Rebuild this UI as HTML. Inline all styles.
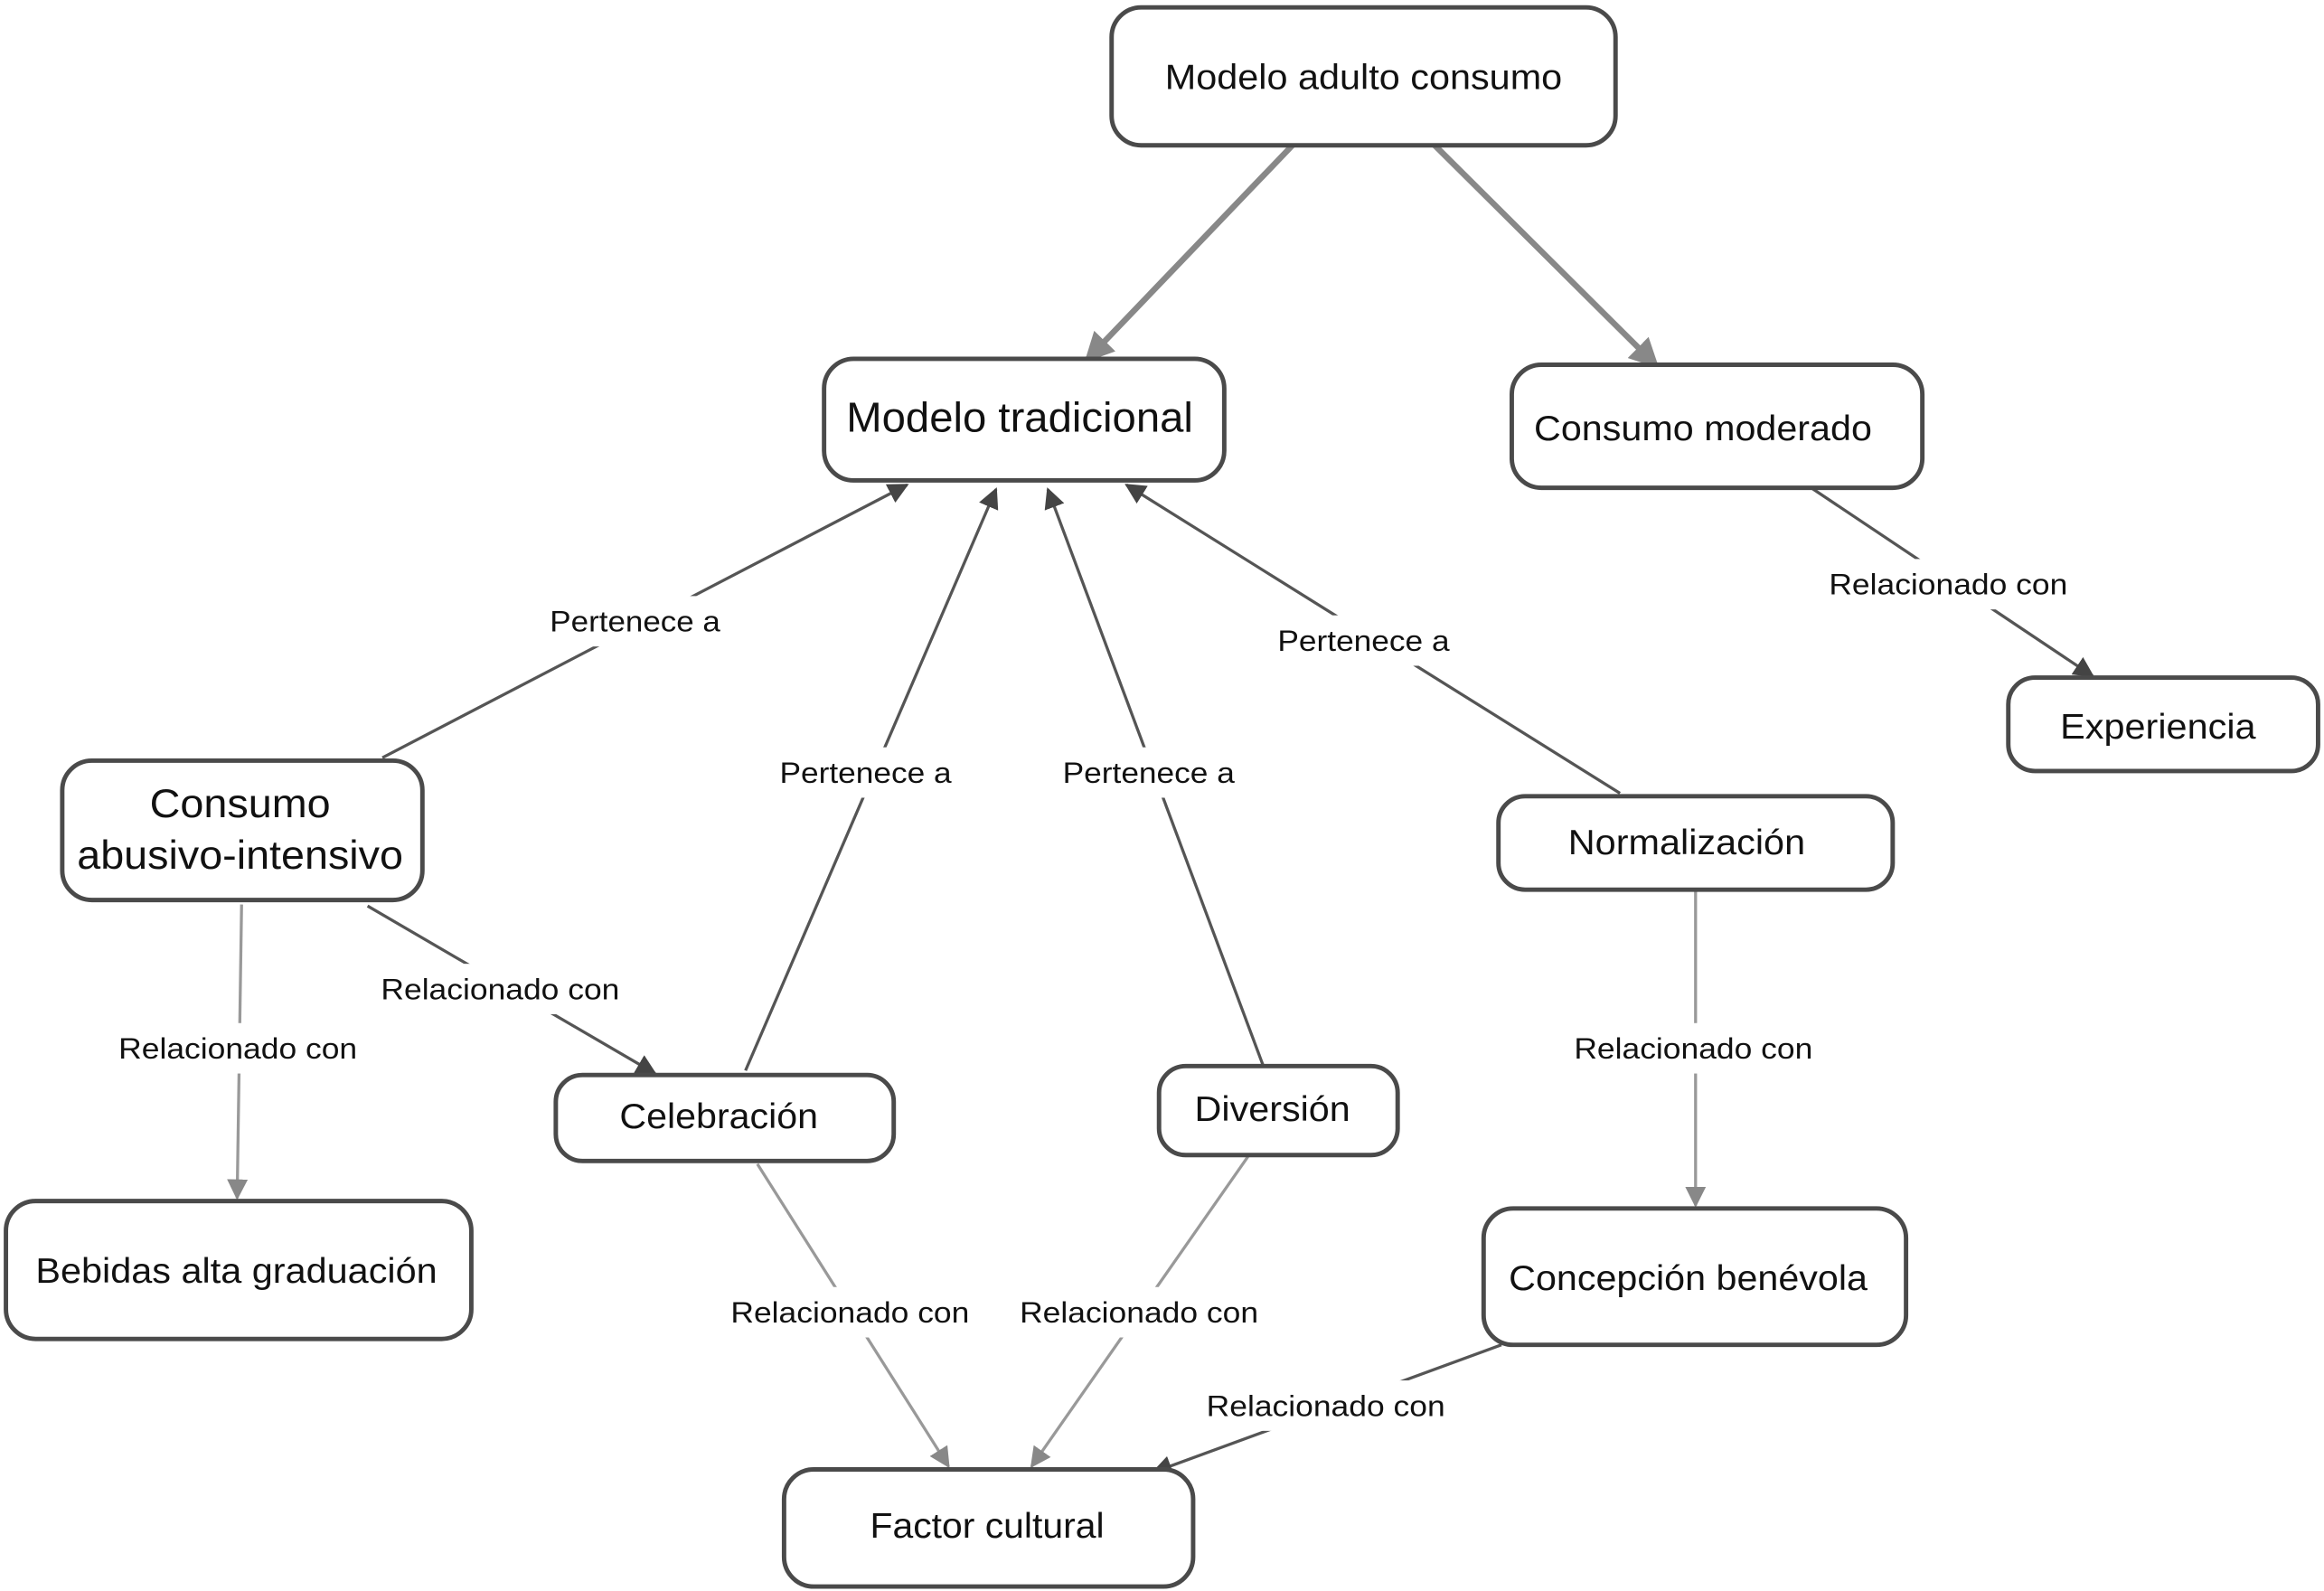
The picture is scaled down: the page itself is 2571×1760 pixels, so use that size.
<!DOCTYPE html>
<html><head><meta charset="utf-8"><style>html,body{margin:0;padding:0;background:#fff}svg{display:block}</style></head>
<body>
<svg width="2571" height="1760" viewBox="0 0 1568 1073" preserveAspectRatio="none" xmlns="http://www.w3.org/2000/svg" font-family="Liberation Sans, sans-serif" fill="#111">
<defs>
<marker id="ag" viewBox="0 0 10 10" refX="9" refY="5" markerWidth="5" markerHeight="5" orient="auto" markerUnits="strokeWidth"><path d="M0,0L10,5L0,10z" fill="#888"/></marker>
<marker id="ad" viewBox="0 0 10 10" refX="9" refY="5" markerWidth="7" markerHeight="7" orient="auto" markerUnits="strokeWidth"><path d="M0,0L10,5L0,10z" fill="#444"/></marker>
<marker id="am" viewBox="0 0 10 10" refX="9" refY="5" markerWidth="7" markerHeight="7" orient="auto" markerUnits="strokeWidth"><path d="M0,0L10,5L0,10z" fill="#888"/></marker>
</defs>
<g fill="none">
<line x1="872" y1="98" x2="733" y2="243" stroke="#888" stroke-width="4" marker-end="url(#ag)"/>
<line x1="968" y1="98" x2="1118" y2="247" stroke="#888" stroke-width="4" marker-end="url(#ag)"/>
<line x1="258" y1="511" x2="612" y2="327" stroke="#555" stroke-width="2" marker-end="url(#ad)"/>
<line x1="503" y1="722" x2="672" y2="330" stroke="#555" stroke-width="2" marker-end="url(#ad)"/>
<line x1="852" y1="718" x2="707" y2="330" stroke="#555" stroke-width="2" marker-end="url(#ad)"/>
<line x1="1093" y1="535" x2="760" y2="327" stroke="#555" stroke-width="2" marker-end="url(#ad)"/>
<line x1="1222" y1="329" x2="1412" y2="456" stroke="#555" stroke-width="2" marker-end="url(#ad)"/>
<line x1="163" y1="610" x2="160" y2="808" stroke="#999" stroke-width="2" marker-end="url(#am)"/>
<line x1="248" y1="611" x2="442" y2="724" stroke="#555" stroke-width="2" marker-end="url(#ad)"/>
<line x1="1144" y1="600" x2="1144" y2="813" stroke="#999" stroke-width="2" marker-end="url(#am)"/>
<line x1="511" y1="785" x2="640" y2="989" stroke="#999" stroke-width="2" marker-end="url(#am)"/>
<line x1="842" y1="780" x2="696" y2="989" stroke="#999" stroke-width="2" marker-end="url(#am)"/>
<line x1="1013" y1="907" x2="778" y2="993" stroke="#555" stroke-width="2" marker-end="url(#ad)"/>
</g>
<g fill="#fff">
<rect x="366" y="402" width="126" height="34"/>
<rect x="521" y="504" width="126" height="34"/>
<rect x="712" y="504" width="126" height="34"/>
<rect x="857" y="415" width="126" height="34"/>
<rect x="1229" y="377" width="172" height="34"/>
<rect x="75" y="690" width="172" height="34"/>
<rect x="252" y="650" width="172" height="34"/>
<rect x="1057" y="690" width="172" height="34"/>
<rect x="488" y="868" width="172" height="34"/>
<rect x="683" y="868" width="172" height="34"/>
<rect x="809" y="931" width="172" height="34"/>
</g>
<g fill="#fff" stroke="#4a4a4a" stroke-width="3">
<rect x="750" y="5" width="340" height="93" rx="20"/>
<rect x="556" y="242" width="270" height="82" rx="20"/>
<rect x="1020" y="246" width="277" height="83" rx="20"/>
<rect x="1355" y="457" width="209" height="63" rx="18"/>
<rect x="42" y="513" width="243" height="94" rx="20"/>
<rect x="1011" y="537" width="266" height="63" rx="18"/>
<rect x="375" y="725" width="228" height="58" rx="18"/>
<rect x="782" y="719" width="161" height="60" rx="18"/>
<rect x="4" y="810" width="314" height="93" rx="20"/>
<rect x="1001" y="815" width="285" height="92" rx="20"/>
<rect x="529" y="991" width="276" height="79" rx="20"/>
</g>
<g font-size="24" lengthAdjust="spacingAndGlyphs">
<text x="786" y="60" textLength="268" lengthAdjust="spacingAndGlyphs">Modelo adulto consumo</text>
<text x="571" y="291" font-size="28" textLength="234" lengthAdjust="spacingAndGlyphs">Modelo tradicional</text>
<text x="1035" y="297" textLength="228" lengthAdjust="spacingAndGlyphs">Consumo moderado</text>
<text x="1390" y="498" textLength="132" lengthAdjust="spacingAndGlyphs">Experiencia</text>
<text x="101" y="551" font-size="27" textLength="122" lengthAdjust="spacingAndGlyphs">Consumo</text>
<text x="52" y="586" font-size="27" textLength="220" lengthAdjust="spacingAndGlyphs">abusivo-intensivo</text>
<text x="1058" y="576" textLength="160" lengthAdjust="spacingAndGlyphs">Normalización</text>
<text x="418" y="761" textLength="134" lengthAdjust="spacingAndGlyphs">Celebración</text>
<text x="806" y="756" textLength="105" lengthAdjust="spacingAndGlyphs">Diversión</text>
<text x="24" y="865" textLength="271" lengthAdjust="spacingAndGlyphs">Bebidas alta graduación</text>
<text x="1018" y="870" textLength="242" lengthAdjust="spacingAndGlyphs">Concepción benévola</text>
<text x="587" y="1037" textLength="158" lengthAdjust="spacingAndGlyphs">Factor cultural</text>
</g>
<g font-size="20">
<text x="371" y="426" textLength="115" lengthAdjust="spacingAndGlyphs">Pertenece a</text>
<text x="526" y="528" textLength="116" lengthAdjust="spacingAndGlyphs">Pertenece a</text>
<text x="717" y="528" textLength="116" lengthAdjust="spacingAndGlyphs">Pertenece a</text>
<text x="862" y="439" textLength="116" lengthAdjust="spacingAndGlyphs">Pertenece a</text>
<text x="1234" y="401" textLength="161" lengthAdjust="spacingAndGlyphs">Relacionado con</text>
<text x="80" y="714" textLength="161" lengthAdjust="spacingAndGlyphs">Relacionado con</text>
<text x="257" y="674" textLength="161" lengthAdjust="spacingAndGlyphs">Relacionado con</text>
<text x="1062" y="714" textLength="161" lengthAdjust="spacingAndGlyphs">Relacionado con</text>
<text x="493" y="892" textLength="161" lengthAdjust="spacingAndGlyphs">Relacionado con</text>
<text x="688" y="892" textLength="161" lengthAdjust="spacingAndGlyphs">Relacionado con</text>
<text x="814" y="955" textLength="161" lengthAdjust="spacingAndGlyphs">Relacionado con</text>
</g>
</svg>
</body></html>
